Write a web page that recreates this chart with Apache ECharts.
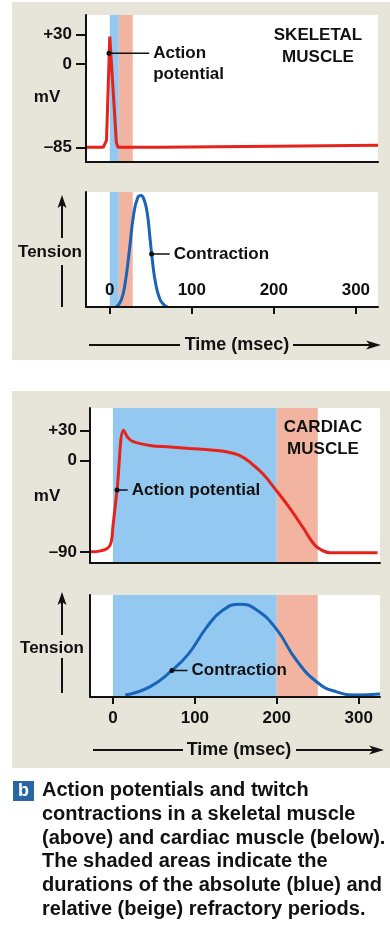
<!DOCTYPE html>
<html>
<head>
<meta charset="utf-8">
<script src="https://cdn.jsdelivr.net/npm/echarts@6/dist/echarts.min.js"></script>
<style>
html,body{margin:0;padding:0;background:#fff;}
#chart{width:390px;height:925px;}
</style>
</head>
<body>
<div id="chart"></div>
<script>
// ---------- DATA ----------
// Skeletal muscle action potential: [time ms, mV]
const skeletalAP = [[-29,-85],[-8,-85],[-6,-84],[-4,-78],[0,28],[1,26],[8,-80],[10,-85],[60,-85],[200,-84],[327,-83]];
// Skeletal muscle twitch tension: [time ms, tension (relative)]
const skeletalTension = [[8,0],[14,6],[19,22],[24,50],[29,80],[34,95],[38,97],[42,93],[46,80],[49,60],[52,40],[56,20],[61,7],[66,2],[70,0]];
// Cardiac muscle action potential
const cardiacAP = [[-28,-90],[-15,-89],[-6,-86],[-2,-80],[0,-65],[5,-29],[13,30],[18,23],[24,19],[45,15],[70,13.5],[94,12],[120,10.5],[140,8.5],[155,5],[168,-2],[183,-13],[200,-30],[216,-47],[232,-66],[244,-81],[252,-87],[265,-91],[323,-91]];
// Cardiac muscle tension
const cardiacTension = [[15,2],[45,10],[72,26],[92,42],[115,69],[134,85],[155,91],[176,85],[200,66],[224,36],[250,14],[273,5],[297,2],[326,3]];
// Refractory periods [start, end] ms
const skeletalAbsolute = [0, 11];
const skeletalRelative = [11, 28];
const cardiacAbsolute = [0, 200];
const cardiacRelative = [200, 250];
// Tick labels
const timeTicks = [0, 100, 200, 300];
const skeletalMvTicks = [30, 0, -85];
const cardiacMvTicks = [30, 0, -90];
// Annotation dots [x, y] and leader end x
const skAPNote = {dot: [-1, 11], endX: 48, text: 'Action\npotential'};
const skTenNote = {dot: [51, 46], endX: 73, text: 'Contraction'};
const caAPNote = {dot: [5, -29], endX: 18, text: 'Action potential'};
const caTenNote = {dot: [72, 26], endX: 91, text: 'Contraction'};

// ---------- STYLE ----------
const FONT = '"Liberation Sans", Arial, Helvetica, sans-serif';
const RED = '#e5231b';
const BLUE = '#1964b9';
const BAND_BLUE = '#93c9f0';
const BAND_BEIGE = '#f2b4a0';
const PANEL = '#e7e4d9';
const INK = '#111';

function mvFmt(v){ return v > 0 ? '+' + v : (v < 0 ? '\u2013' + Math.abs(v) : '0'); }

function bands(abs, rel){
  return {
    silent: true,
    data: [
      [{xAxis: abs[0], itemStyle:{color: BAND_BLUE}}, {xAxis: abs[1]}],
      [{xAxis: rel[0], itemStyle:{color: BAND_BEIGE}}, {xAxis: rel[1]}]
    ]
  };
}

const axisLineStyle = {show: true, onZero: false, lineStyle: {color: INK, width: 2}};
const labelText = {fontFamily: FONT, fontWeight: 'bold', fontSize: 17, color: INK};

function xAx(grid, min, max, ticks, labelInside){
  const a = {type: 'value', gridIndex: grid, min: min, max: max, z: 6, splitLine: {show: false}, axisLine: axisLineStyle};
  if (ticks) {
    a.axisTick = {show: true, inside: false, length: 7, customValues: timeTicks, lineStyle: {color: INK, width: 2}};
    a.axisLabel = Object.assign({show: true, inside: labelInside, customValues: timeTicks, margin: labelInside ? 8 : 13}, labelText);
  } else {
    a.axisTick = {show: false};
    a.axisLabel = {show: false};
  }
  return a;
}
function yAx(grid, min, max, ticks, margin){
  const a = {type: 'value', gridIndex: grid, min: min, max: max, z: 6, splitLine: {show: false}, axisLine: axisLineStyle};
  if (ticks) {
    a.axisTick = {show: true, length: 10, customValues: ticks, lineStyle: {color: INK, width: 2}};
    a.axisLabel = Object.assign({show: true, customValues: ticks, margin: margin, formatter: mvFmt}, labelText);
  } else {
    a.axisTick = {show: false};
    a.axisLabel = {show: false};
  }
  return a;
}

function curve(idx, data, color, smooth, abs, rel){
  return {
    type: 'line', xAxisIndex: idx, yAxisIndex: idx, data: data,
    symbol: 'none', smooth: smooth,
    lineStyle: {color: color, width: 3}, z: 3,
    markArea: bands(abs, rel)
  };
}

function note(idx, n, offsetY){
  return {
    type: 'line', xAxisIndex: idx, yAxisIndex: idx, z: 5,
    lineStyle: {color: INK, width: 1.5},
    itemStyle: {color: INK},
    data: [
      {value: n.dot, symbol: 'circle', symbolSize: 5},
      {value: [n.endX, n.dot[1]], symbol: 'circle', symbolSize: 0.1,
       label: {show: true, position: 'right', distance: 4, offset: [0, offsetY || 0], formatter: n.text,
               fontFamily: FONT, fontWeight: 'bold', fontSize: 17, color: INK, lineHeight: 21, align: 'left'}}
    ]
  };
}

// ---------- GRAPHICS (decoration) ----------
function txt(x, y, s, size, align){
  return {type: 'text', z: 10, style: {x: x, y: y, text: s, font: 'bold ' + size + 'px ' + FONT, fill: INK,
          align: align || 'center', verticalAlign: 'middle', lineHeight: 22}};
}
function ln(x1, y1, x2, y2){
  return {type: 'line', z: 10, shape: {x1: x1, y1: y1, x2: x2, y2: y2}, style: {stroke: INK, lineWidth: 2}};
}
function upArrow(x, tipY){
  return {type: 'polygon', z: 10, shape: {points: [[x, tipY], [x - 4.5, tipY + 13], [x, tipY + 10], [x + 4.5, tipY + 13]]}, style: {fill: INK}};
}
function rightArrow(tipX, y){
  return {type: 'polygon', z: 10, shape: {points: [[tipX, y], [tipX - 15, y - 4.5], [tipX - 11, y], [tipX - 15, y + 4.5]]}, style: {fill: INK}};
}

const captionLines = [
  'Action potentials and twitch',
  'contractions in a skeletal muscle',
  '(above) and cardiac muscle (below).',
  'The shaded areas indicate the',
  'durations of the absolute (blue) and',
  'relative (beige) refractory periods.'
];

const graphics = [
  {type: 'rect', z: -10, shape: {x: 12, y: 2, width: 378, height: 358}, style: {fill: PANEL}},
  {type: 'rect', z: -10, shape: {x: 12, y: 391, width: 378, height: 377}, style: {fill: PANEL}},
  // Skeletal panel labels
  txt(47, 97, 'mV', 17),
  txt(318, 46, 'SKELETAL\nMUSCLE', 17),
  txt(50, 252, 'Tension', 17),
  upArrow(62, 195), ln(62, 205, 62, 238), ln(62, 265, 62, 307),
  txt(237, 345, 'Time (msec)', 18),
  ln(89, 345, 180, 345), ln(293, 345, 372, 345), rightArrow(381, 345),
  // Cardiac panel labels
  txt(47, 496, 'mV', 17),
  txt(323, 438, 'CARDIAC\nMUSCLE', 17),
  txt(52, 648, 'Tension', 17),
  upArrow(62, 592), ln(62, 602, 62, 635), ln(62, 658, 62, 693),
  txt(239, 750, 'Time (msec)', 18),
  ln(93, 750, 183, 750), ln(296, 750, 375, 750), rightArrow(384, 750),
  // Caption
  {type: 'rect', z: 10, shape: {x: 13, y: 781, width: 21, height: 20}, style: {fill: '#2966a3'}},
  {type: 'text', z: 11, style: {x: 23.5, y: 791, text: 'b', font: 'bold 18px ' + FONT, fill: '#fff', align: 'center', verticalAlign: 'middle'}},
  {type: 'text', z: 10, style: {x: 42, y: 779, text: captionLines.join('\n'), font: 'bold 20px ' + FONT, fill: INK,
    align: 'left', verticalAlign: 'top', lineHeight: 23.7}}
];

const chart = echarts.init(document.getElementById('chart'), null, {renderer: 'canvas'});
chart.setOption({
  animation: false,
  backgroundColor: '#fff',
  grid: [
    {left: 86, top: 15, width: 292, height: 147, show: true, backgroundColor: '#fff', borderWidth: 0},
    {left: 86, top: 192, width: 292, height: 115, show: true, backgroundColor: '#fff', borderWidth: 0},
    {left: 90, top: 408, width: 290, height: 155, show: true, backgroundColor: '#fff', borderWidth: 0},
    {left: 90, top: 595, width: 290, height: 102, show: true, backgroundColor: '#fff', borderWidth: 0}
  ],
  xAxis: [
    xAx(0, -29, 327, false),
    xAx(1, -29, 327, true, true),
    xAx(2, -28, 326, false),
    xAx(3, -28, 326, true, false)
  ],
  yAxis: [
    yAx(0, -100, 50, skeletalMvTicks, 14),
    yAx(1, 0, 100, null),
    yAx(2, -101, 52, cardiacMvTicks, 13),
    yAx(3, 0, 100, null)
  ],
  series: [
    curve(0, skeletalAP, RED, false, skeletalAbsolute, skeletalRelative),
    curve(1, skeletalTension, BLUE, 0.5, skeletalAbsolute, skeletalRelative),
    curve(2, cardiacAP, RED, 0.4, cardiacAbsolute, cardiacRelative),
    curve(3, cardiacTension, BLUE, 0.5, cardiacAbsolute, cardiacRelative),
    note(0, skAPNote, 11),
    note(1, skTenNote, 0),
    note(2, caAPNote, 0),
    note(3, caTenNote, 0)
  ],
  graphic: graphics
});
</script>
</body>
</html>
